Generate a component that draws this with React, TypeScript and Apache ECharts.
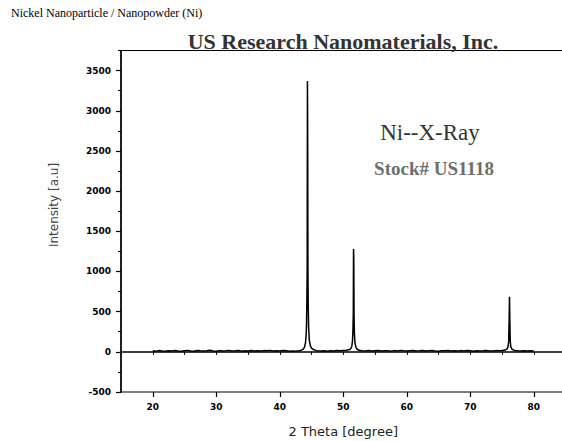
import React, { useEffect, useRef } from "react";
import * as echarts from "echarts";

// ---- data ----
const twoTheta = [
  20, 20.5, 21, 21.5, 22, 22.5, 23, 23.5, 24, 24.5, 25, 25.5, 26, 26.5, 27, 27.5, 28, 28.5, 29, 29.5,
  30, 30.5, 31, 31.5, 32, 32.5, 33, 33.5, 34, 34.5, 35, 35.5, 36, 36.5, 37, 37.5, 38, 38.5, 39, 39.5,
  40, 40.5, 41, 41.5, 42, 42.5, 43,
  43.4, 43.7, 43.9, 44.05, 44.15, 44.22, 44.28, 44.32, 44.36, 44.4, 44.44, 44.48, 44.55, 44.65, 44.8, 45.0, 45.3, 45.7,
  46, 46.5, 47, 47.5, 48, 48.5, 49, 49.5, 50, 50.5,
  51.0, 51.2, 51.35, 51.45, 51.52, 51.58, 51.62, 51.66, 51.7, 51.76, 51.85, 52.0, 52.2, 52.5, 53.0,
  53.5, 54, 54.5, 55, 55.5, 56, 56.5, 57, 57.5, 58, 58.5, 59, 59.5, 60, 60.5, 61, 61.5, 62, 62.5, 63,
  63.5, 64, 64.5, 65, 65.5, 66, 66.5, 67, 67.5, 68, 68.5, 69, 69.5, 70, 70.5, 71, 71.5, 72, 72.5, 73,
  73.5, 74, 74.5, 75,
  75.5, 75.8, 75.95, 76.05, 76.12, 76.18, 76.24, 76.3, 76.4, 76.6, 77.0,
  77.5, 78, 78.5, 79, 79.5, 80,
];
const intensity = [
  12, 8, 15, 10, 6, 14, 9, 17, 11, 7, 13, 18, 10, 8, 16, 12, 9, 14, 20, 11,
  7, 15, 10, 13, 18, 9, 12, 16, 8, 14, 11, 17, 10, 13, 9, 15, 12, 18, 10, 14,
  11, 16, 13, 6, 9, 8, 12,
  20, 33, 58, 110, 200, 350, 700, 1040, 3370, 2640, 1040, 600, 300, 150, 80, 45, 28, 18,
  14, 10, 12, 8, 13, 11, 15, 12, 16, 20,
  28, 42, 70, 130, 250, 460, 1280, 1155, 460, 220, 110, 55, 32, 20, 14,
  11, 16, 9, 13, 17, 10, 14, 12, 8, 15, 11, 18, 13, 9, 14, 16, 10, 12, 17, 9,
  13, 15, 11, 8, 14, 12, 17, 10, 13, 9, 15, 11, 16, 12, 8, 14, 10, 13, 17, 11,
  9, 15, 12, 16,
  22, 36, 62, 130, 375, 686, 370, 125, 58, 30, 16,
  12, 9, 14, 11, 13, 10,
];
const xMajorTicks = [20, 30, 40, 50, 60, 70, 80];
const yMajorTicks = [-500, 0, 500, 1000, 1500, 2000, 2500, 3000, 3500];
const xMin = 15, xMax = 85, xStep = 5;
const yMin = -500, yMax = 3750, yStep = 250;

const subtitle = "Nickel Nanoparticle / Nanopowder (Ni)";
const mainTitle = "US Research Nanomaterials, Inc.";
const noteTitle = "Ni--X-Ray";
const noteStock = "Stock# US1118";
const xName = "2 Theta [degree]";
const yName = "Intensity [a.u]";

export default function App() {
  const ref = useRef<HTMLDivElement>(null);
  useEffect(() => {
    if (!ref.current) return;
    const chart = echarts.init(ref.current, null, { renderer: "svg" });
    const xCats: string[] = [];
    for (let v = xMin; v <= xMax; v += xStep) xCats.push(String(v));
    const yCats: string[] = [];
    for (let v = yMin; v <= yMax; v += yStep) yCats.push(String(v));
    const xMajorSet = new Set(xMajorTicks.map(String));
    const yMajorSet = new Set(yMajorTicks.map(String));
    const tickFont = { fontFamily: "DejaVu Sans", fontWeight: "bold" as const, fontSize: 9, color: "#000" };

    chart.setOption({
      animation: false,
      backgroundColor: "#fff",
      grid: {
        left: 121, top: 50.5, width: 444.5, height: 341.5,
        containLabel: false, outerBoundsMode: "none",
        show: true, borderColor: "#000", borderWidth: 1, backgroundColor: "transparent",
      },
      xAxis: [
        {
          type: "value", min: xMin, max: xMax, interval: xStep, position: "bottom",
          axisLine: { show: true, lineStyle: { color: "#000", width: 1.5 } },
          axisTick: { show: true, length: 3, lineStyle: { color: "#000" } },
          axisLabel: { show: false },
          splitLine: { show: false },
          name: xName, nameLocation: "middle", nameGap: 33,
          nameTextStyle: { fontFamily: "DejaVu Sans", fontSize: 13, color: "#222" },
        },
        {
          type: "category", data: xCats, boundaryGap: false, position: "bottom",
          axisLine: { show: false },
          axisTick: { show: true, length: 5, interval: (_i: number, v: string) => xMajorSet.has(v), lineStyle: { color: "#000", width: 1.2 } },
          axisLabel: { show: true, margin: 10, interval: (_i: number, v: string) => xMajorSet.has(v), ...tickFont },
          splitLine: { show: false },
        },
      ],
      yAxis: [
        {
          type: "value", min: yMin, max: yMax, interval: yStep, position: "left",
          axisLine: { show: true, lineStyle: { color: "#000", width: 1.5 } },
          axisTick: { show: true, length: 3, lineStyle: { color: "#000" } },
          axisLabel: { show: false },
          splitLine: { show: false },
        },
        {
          type: "category", data: yCats, boundaryGap: false, position: "left",
          axisLine: { show: false },
          axisTick: { show: true, length: 5, interval: (_i: number, v: string) => yMajorSet.has(v), lineStyle: { color: "#000", width: 1.2 } },
          axisLabel: { show: true, margin: 10, interval: (_i: number, v: string) => yMajorSet.has(v), ...tickFont },
          splitLine: { show: false },
        },
      ],
      series: [
        {
          type: "line",
          xAxisIndex: 0, yAxisIndex: 0,
          data: twoTheta.map((x, i) => [x, intensity[i]]),
          showSymbol: false, symbol: "none",
          lineStyle: { color: "#000", width: 1.5 },
          clip: true,
        },
      ],
      graphic: [
        { type: "text", x: 11, y: 13, style: { text: subtitle, fill: "#000", font: "12px 'Liberation Serif'", textAlign: "left", textVerticalAlign: "middle" } },
        { type: "text", x: 343, y: 41, style: { text: mainTitle, fill: "#333", font: "bold 22px 'Liberation Serif'", textAlign: "center", textVerticalAlign: "middle" } },
        { type: "text", x: 430, y: 132, style: { text: noteTitle, fill: "#333", font: "23px 'Liberation Serif'", textAlign: "center", textVerticalAlign: "middle" } },
        { type: "text", x: 434, y: 168, style: { text: noteStock, fill: "#6e6e6e", font: "bold 19px 'Liberation Serif'", textAlign: "center", textVerticalAlign: "middle" } },
        { type: "text", x: 54, y: 205, rotation: Math.PI / 2, style: { text: yName, fill: "#444", font: "12px 'DejaVu Sans'", textAlign: "center", textVerticalAlign: "middle" } },
      ],
    });
    return () => chart.dispose();
  }, []);
  return (
    <div
      ref={ref}
      style={{ position: "fixed", left: 0, top: 0, width: 562, height: 441, background: "#fff" }}
    />
  );
}
